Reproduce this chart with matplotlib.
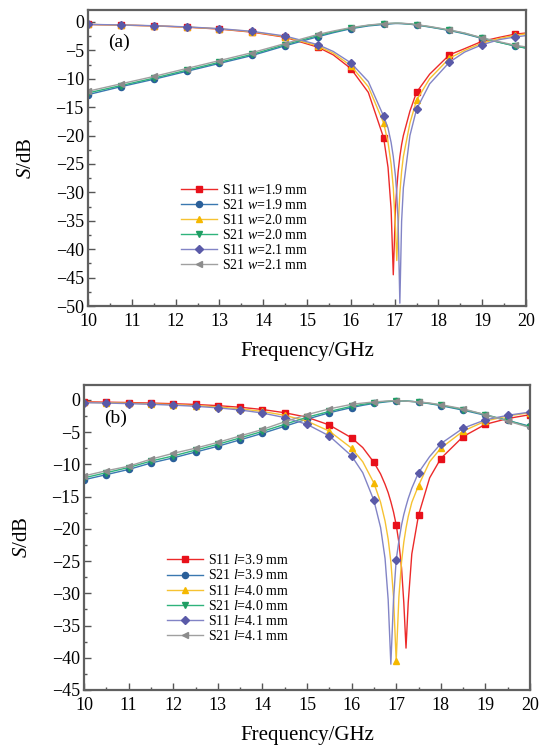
"""
Reflection (S11) and transmission (S21) curves for two parameter sweeps
"""

import numpy as np
import matplotlib
matplotlib.use('Agg')
import matplotlib as mpl
import matplotlib.pyplot as plt

mpl.rcParams['font.family'] = ['Liberation Serif', 'DejaVu Serif']
mpl.rcParams['mathtext.fontset'] = 'custom'
mpl.rcParams['mathtext.rm'] = 'Liberation Serif'
mpl.rcParams['mathtext.it'] = 'Liberation Serif:italic'
mpl.rcParams['axes.unicode_minus'] = True


# Data

freq_a = [10, 10.75, 11.5, 12.25, 13, 13.75, 14.5, 15.25, 15.6, 16, 16.4, 16.75, 16.85, 16.92,
          16.97, 17.02, 17.05, 17.08, 17.12, 17.16, 17.2, 17.35, 17.5, 17.8, 18.25, 18.6, 19,
          19.4, 19.75, 20]

s11_w19 = [-0.45, -0.55, -0.7, -0.92, -1.26, -1.8, -2.7, -4.45, -5.8, -8.2, -12.4, -20.4, -25.6,
           -32.9, -44.5, -32.9, -29.2, -26.4, -23.7, -21.6, -20.0, -15.7, -12.4, -9.2, -5.8, -4.7,
           -3.4, -2.7, -2.15, -1.95]
s21_w19 = [-12.8, -11.4, -10.1, -8.7, -7.3, -5.9, -4.2, -2.6, -1.9, -1.2, -0.7, -0.45, -0.38,
           -0.33, -0.3, -0.28, -0.28, -0.28, -0.29, -0.3, -0.32, -0.4, -0.55, -0.9, -1.5, -2.1,
           -2.9, -3.6, -4.2, -4.6]
s11_w20 = [-0.44, -0.55, -0.69, -0.9, -1.22, -1.72, -2.6, -4.24, -5.5, -7.7, -11.4, -17.8, -21.2,
           -25.0, -29.2, -36.3, -42.0, -36.3, -30.1, -26.3, -23.7, -17.8, -13.8, -10.0, -6.4,
           -5.0, -3.7, -2.9, -2.35, -2.1]
s21_w20 = [-12.5, -11.2, -9.9, -8.5, -7.1, -5.7, -4.0, -2.4, -1.75, -1.1, -0.6, -0.35, -0.3,
           -0.27, -0.25, -0.24, -0.24, -0.24, -0.25, -0.26, -0.28, -0.36, -0.5, -0.85, -1.45,
           -2.0, -2.85, -3.6, -4.25, -4.6]
s11_w21 = [-0.43, -0.53, -0.67, -0.87, -1.18, -1.66, -2.48, -4.0, -5.2, -7.2, -10.5, -16.6,
           -18.7, -21.2, -23.7, -27.2, -30.3, -35.1, -49.5, -35.1, -29.2, -20.0, -15.4, -10.9,
           -7.1, -5.3, -4.0, -3.1, -2.65, -2.4]
s21_w21 = [-12.2, -10.9, -9.6, -8.2, -6.8, -5.4, -3.8, -2.2, -1.6, -1.0, -0.55, -0.3, -0.26,
           -0.23, -0.22, -0.21, -0.21, -0.21, -0.22, -0.23, -0.25, -0.33, -0.48, -0.8, -1.4,
           -1.95, -2.8, -3.5, -4.1, -4.4]

freq_b = [10, 10.5, 11, 11.5, 12, 12.5, 13, 13.5, 14, 14.5, 15, 15.5, 16, 16.25, 16.5, 16.65,
          16.75, 16.82, 16.88, 16.94, 17.0, 17.06, 17.12, 17.17, 17.22, 17.27, 17.35, 17.5,
          17.75, 18, 18.5, 19, 19.5, 20]

s11_l39 = [-0.3, -0.36, -0.42, -0.5, -0.6, -0.72, -0.9, -1.15, -1.5, -2.0, -2.7, -3.9, -5.9,
           -7.4, -9.7, -11.5, -13.1, -14.4, -15.8, -17.4, -19.4, -22.1, -26.1, -31.4, -38.5,
           -31.4, -23.9, -17.9, -12.1, -9.1, -5.7, -3.8, -2.9, -2.3]
s21_l39 = [-12.4, -11.6, -10.8, -9.8, -9.0, -8.1, -7.2, -6.2, -5.2, -4.1, -3.0, -2.0, -1.2,
           -0.85, -0.55, -0.42, -0.33, -0.28, -0.24, -0.2, -0.18, -0.17, -0.17, -0.18, -0.19,
           -0.21, -0.25, -0.35, -0.6, -0.9, -1.6, -2.4, -3.2, -4.1]
s11_l40 = [-0.39, -0.45, -0.52, -0.62, -0.74, -0.9, -1.1, -1.39, -1.8, -2.4, -3.3, -4.85, -7.5,
           -9.6, -12.9, -15.9, -18.8, -21.6, -25.1, -30.6, -40.5, -30.6, -25.1, -22.1, -19.9,
           -18.1, -15.9, -13.3, -9.6, -7.5, -4.85, -3.3, -2.5, -2.0]
s21_l40 = [-12.1, -11.3, -10.5, -9.5, -8.7, -7.8, -6.9, -5.9, -4.9, -3.8, -2.7, -1.8, -1.0,
           -0.7, -0.45, -0.33, -0.26, -0.22, -0.19, -0.17, -0.15, -0.15, -0.16, -0.17, -0.19,
           -0.21, -0.25, -0.33, -0.55, -0.82, -1.5, -2.3, -3.2, -4.2]
s11_l41 = [-0.44, -0.5, -0.59, -0.69, -0.83, -1.0, -1.25, -1.57, -2.05, -2.75, -3.8, -5.6, -8.7,
           -11.3, -15.6, -19.8, -24.6, -31.0, -41.0, -31.0, -24.8, -21.9, -19.4, -17.8, -16.5,
           -15.3, -13.7, -11.3, -8.8, -6.8, -4.4, -3.1, -2.4, -1.9]
s21_l41 = [-11.8, -11.0, -10.3, -9.2, -8.3, -7.5, -6.6, -5.6, -4.6, -3.4, -2.3, -1.4, -0.7,
           -0.5, -0.33, -0.25, -0.2, -0.17, -0.15, -0.14, -0.14, -0.15, -0.16, -0.18, -0.2,
           -0.23, -0.27, -0.3, -0.5, -0.75, -1.4, -2.3, -3.3, -4.3]

labels_a = ['S11 $w$=1.9 mm', 'S21 $w$=1.9 mm', 'S11 $w$=2.0 mm',
            'S21 $w$=2.0 mm', 'S11 $w$=2.1 mm', 'S21 $w$=2.1 mm']
labels_b = ['S11 $l$=3.9 mm', 'S21 $l$=3.9 mm', 'S11 $l$=4.0 mm',
            'S21 $l$=4.0 mm', 'S11 $l$=4.1 mm', 'S21 $l$=4.1 mm']

# line colour, marker colour, marker
styles = [('#ec2a2a', '#e8101a', 's'),
          ('#3a78b0', '#2a5f99', 'o'),
          ('#f6c232', '#f5b800', '^'),
          ('#2fb37c', '#1f9e63', 'v'),
          ('#8284c6', '#5a5aa8', 'D'),
          ('#a0a0a0', '#8c8c8c', '<')]


def marker_index(freq, step):
    """Indices of the points that carry a marker"""
    freq = np.asarray(freq)
    grid = np.arange(10, 20.001, step)
    return [i for i, f in enumerate(freq) if np.any(np.isclose(f, grid))]


def plot_panel(ax, freq, series, labels, step, ylim, yticks, tag, leg_anchor):
    """Draw one S-parameter panel"""

    idx = marker_index(freq, step)
    for pnum, y in enumerate(series):
        lcol, mcol, mk = styles[pnum]
        ms = 3.8 if mk == 'D' else 4.4
        ax.plot(freq, y, color=lcol, linewidth=1.0, marker=mk, markevery=idx,
                markersize=ms, markerfacecolor=mcol, markeredgecolor=mcol,
                label=labels[pnum])

    ax.set_xlim(10, 20)
    ax.set_ylim(*ylim)
    ax.set_xticks(np.arange(10, 21, 1))
    ax.set_xticks(np.arange(10, 20.01, 0.5), minor=True)
    ax.set_yticks(yticks)
    ax.set_yticks(np.arange(yticks[0], 0.01, 2.5), minor=True)
    ax.tick_params(which='both', direction='in', top=False, right=False,
                   labelsize=13, color='#555555')
    ax.tick_params(axis='x', which='both', pad=5)
    ax.tick_params(axis='y', which='both', pad=3)
    ax.tick_params(which='major', length=5, width=1.0)
    ax.tick_params(which='minor', length=2.5, width=1.0)
    for sp in ax.spines.values():
        sp.set_color('#606060')
        sp.set_linewidth(1.6)

    ax.set_xlabel('Frequency/GHz', fontsize=15, labelpad=9)
    ax.set_ylabel('$S$/dB', fontsize=15, labelpad=14)
    ax.text(0.045, 0.89, tag, transform=ax.transAxes, fontsize=14, va='center')

    leg = ax.legend(loc='upper left', bbox_to_anchor=leg_anchor, frameon=False,
                    fontsize=10, labelspacing=0.08, handlelength=2.6,
                    handletextpad=0.35, borderpad=0.2)
    return leg


fig = plt.figure(figsize=(5.43, 7.49), dpi=100)
ax1 = fig.add_axes([88 / 543, 1 - 306 / 749, (526 - 88) / 543, (306 - 10) / 749])
ax2 = fig.add_axes([84 / 543, 1 - 690 / 749, (530 - 84) / 543, (690 - 385) / 749])

plot_panel(ax1, freq_a, [s11_w19, s21_w19, s11_w20, s21_w20, s11_w21, s21_w21],
           labels_a, 0.75, (-50, 2.1), np.arange(-50, 1, 5), '(a)', (0.19, 0.45))
plot_panel(ax2, freq_b, [s11_l39, s21_l39, s11_l40, s21_l40, s11_l41, s21_l41],
           labels_b, 0.5, (-45, 2.3), np.arange(-45, 1, 5), '(b)', (0.165, 0.48))

plt.savefig('out.png', dpi=100)
